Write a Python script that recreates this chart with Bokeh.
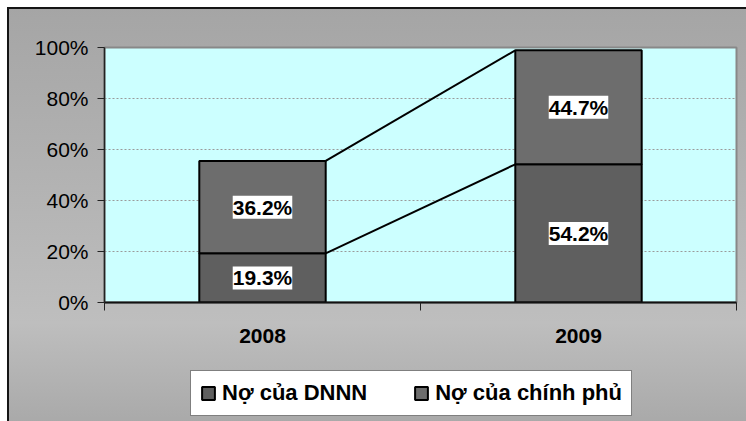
from bokeh.plotting import figure
from bokeh.layouts import column
from bokeh.models import (Range1d, FixedTicker, PrintfTickFormatter, LabelSet,
                          ColumnDataSource, Legend, LegendItem)
from bokeh.core.properties import value
from bokeh.embed import file_html
from bokeh.resources import INLINE

# ---- data ----
years = ["2008", "2009"]
dnnn = [19.3, 54.2]          # Nợ của DNNN (lower segment)
chinh_phu = [36.2, 44.7]     # Nợ của chính phủ (upper segment)
series_names = ["Nợ của DNNN", "Nợ của chính phủ"]
series_colors = ["#5f5f5f", "#6d6d6d"]
y_ticks = [0, 20, 40, 60, 80, 100]

FONT = "Liberation Sans"
FS = "21px"
BAR_W = 0.40

n = len(years)
xpos = [i + 0.5 for i in range(n)]
bounds = [float(i) for i in range(n + 1)]
top1 = list(dnnn)
top2 = [a + b for a, b in zip(dnnn, chinh_phu)]

src = ColumnDataSource(dict(x=xpos, dnnn=top1, top2=top2))

# ================= main chart =================
p = figure(width=746, height=360, output_backend="svg", toolbar_location=None,
           x_range=Range1d(0, n), y_range=Range1d(0, 100),
           min_border_left=104, min_border_right=10, min_border_top=47,
           min_border_bottom=58)
p.border_fill_color = None
p.background_fill_color = "#ccffff"
p.outline_line_color = "#888888"
p.outline_line_width = 2

xa = p.xaxis[0]
xa.ticker = FixedTicker(ticks=xpos, minor_ticks=bounds)
xa.major_label_overrides = {xv: y for xv, y in zip(xpos, years)}
xa.major_tick_out = 0
xa.major_tick_in = 0
xa.major_tick_line_color = None
xa.minor_tick_out = 8
xa.minor_tick_in = 0
xa.minor_tick_line_color = "#222222"
xa.minor_tick_line_width = 1
xa.axis_line_color = "#111111"
xa.axis_line_width = 2
xa.major_label_standoff = 18
xa.major_label_text_font = FONT
xa.major_label_text_font_size = FS
xa.major_label_text_font_style = "bold"
xa.major_label_text_color = "black"

ya = p.yaxis[0]
ya.ticker = FixedTicker(ticks=y_ticks)
ya.formatter = PrintfTickFormatter(format="%d%%")
ya.major_tick_out = 7
ya.major_tick_in = 0
ya.major_tick_line_color = "#222222"
ya.axis_line_color = "#222222"
ya.axis_line_width = 1.5
ya.major_label_standoff = 9
ya.major_label_text_font = FONT
ya.major_label_text_font_size = FS
ya.major_label_text_color = "black"

p.xgrid.visible = False
p.ygrid.ticker = FixedTicker(ticks=y_ticks)
p.ygrid.grid_line_color = "#9a9a9a"
p.ygrid.grid_line_dash = "2 2"
p.ygrid.grid_line_width = 1

p.vbar(x="x", width=BAR_W, bottom=0, top="dnnn", source=src,
       fill_color=series_colors[0], line_color="black", line_width=2)
p.vbar(x="x", width=BAR_W, bottom="dnnn", top="top2", source=src,
       fill_color=series_colors[1], line_color="black", line_width=2)

for tops in (top1, top2):
    p.segment(x0=[xpos[i] + BAR_W / 2 for i in range(n - 1)],
              y0=[tops[i] for i in range(n - 1)],
              x1=[xpos[i + 1] - BAR_W / 2 for i in range(n - 1)],
              y1=[tops[i + 1] for i in range(n - 1)],
              line_color="black", line_width=2)

lab_x = xpos + xpos
lab_y = [v / 2 for v in dnnn] + [a + b / 2 for a, b in zip(dnnn, chinh_phu)]
lab_t = [f"{v:.1f}%" for v in dnnn] + [f"{v:.1f}%" for v in chinh_phu]
lsrc = ColumnDataSource(dict(x=lab_x, y=lab_y, t=lab_t))
labels = LabelSet(x="x", y="y", text="t", source=lsrc,
                  text_font=value(FONT), text_font_size=FS, text_font_style="bold",
                  text_color="black", text_align="center", text_baseline="middle",
                  background_fill_color="white")
if "padding" in LabelSet.properties():
    labels.padding = 1
p.add_layout(labels)

# ================= legend strip (same frame columns as the chart) =================
q = figure(width=746, height=61, output_backend="svg", toolbar_location=None,
           x_range=Range1d(0, n), y_range=Range1d(0, 100),
           x_axis_type=None, y_axis_type=None,
           min_border_left=104, min_border_right=10, min_border_top=0, min_border_bottom=0)
q.border_fill_color = None
q.background_fill_color = None
q.outline_line_color = None
q.grid.visible = False
lr1 = q.vbar(x="x", width=BAR_W, bottom=0, top="dnnn", source=src,
             fill_color=series_colors[0], line_color="black", line_width=2)
lr2 = q.vbar(x="x", width=BAR_W, bottom="dnnn", top="top2", source=src,
             fill_color=series_colors[1], line_color="black", line_width=2)
# the strip's bars are only the legend's swatch sources; they are not drawn themselves
lr1.visible = False
lr2.visible = False
legend = Legend(items=[LegendItem(label=series_names[0], renderers=[lr1]),
                       LegendItem(label=series_names[1], renderers=[lr2])],
                orientation="horizontal", location=(86, 5),
                border_line_color="black", border_line_width=1,
                background_fill_color="white", background_fill_alpha=1,
                inactive_fill_alpha=0,
                label_text_font=FONT, label_text_font_size="22px",
                label_text_font_style="bold", label_text_color="black",
                glyph_width=16, glyph_height=16, label_standoff=6,
                spacing=46, padding=9, margin=0)
q.add_layout(legend)

page = column(p, q, spacing=0, styles={"background": (
    "linear-gradient(#151515,#151515) 7px 7px / 2px 100% no-repeat, "
    "linear-gradient(#151515,#151515) 7px 7px / 100% 2px no-repeat, "
    "linear-gradient(180deg, #a5a5a5 0%, #b2b2b2 40%, #bebebe 75%, #a8a8a8 100%) 7px 7px / 100% 100% no-repeat, "
    "#ffffff")})

open("out.html", "w").write(file_html(page, INLINE))
